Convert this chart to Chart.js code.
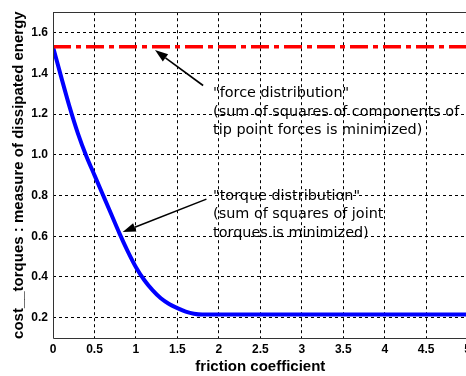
<!DOCTYPE html>
<html>
<head>
<meta charset="utf-8">
<script src="https://cdn.jsdelivr.net/npm/chart.js@4/dist/chart.umd.min.js"></script>
<style>
html,body{margin:0;padding:0;background:#fff;overflow:hidden;}
#wrap{width:466px;height:376px;overflow:hidden;position:relative;}
canvas{display:block;}
</style>
</head>
<body>
<div id="wrap"><canvas id="c" width="475" height="376"></canvas></div>
<script>
// ---- data ----
const frictionX   = [0, 0.1, 0.2, 0.3, 0.4, 0.5, 0.6, 0.7, 0.8, 0.9, 1.0, 1.1, 1.2, 1.3, 1.4, 1.5, 1.6, 1.7, 1.8, 5];
const torqueCost  = [1.53, 1.38, 1.235, 1.105, 0.995, 0.9, 0.805, 0.71, 0.615, 0.527, 0.448, 0.385, 0.335, 0.295, 0.267, 0.247, 0.23, 0.219, 0.215, 0.215];
const forceX      = [0, 5];
const forceCost   = [1.53, 1.53];
const xTicks      = [0, 0.5, 1, 1.5, 2, 2.5, 3, 3.5, 4, 4.5, 5];
const yTicks      = [0.2, 0.4, 0.6, 0.8, 1.0, 1.2, 1.4, 1.6];
const xTitle      = 'friction coefficient';
const yTitle      = 'cost__torques : measure of dissipated energy';
const forceNote   = ['"force distribution"', '(sum of squares of components of', 'tip point forces is minimized)'];
const torqueNote  = ['"torque distribution"', '(sum of squares of joint', 'torques is minimized)'];
// annotation anchors (data coordinates)
const forceArrow  = {from: [1.81, 1.34], to: [1.23, 1.514]};
const torqueArrow = {from: [1.85, 0.782], to: [0.84, 0.62]};
const forceTextAt = [1.93, 1.303];
const torqueTextAt= [1.93, 0.798];

const pts = (xs, ys) => xs.map((x, i) => ({x, y: ys[i]}));

const notes = {
  id: 'notes',
  afterDatasetsDraw(chart) {
    const {ctx, scales: {x, y}, chartArea: a} = chart;
    ctx.save();
    // frame
    ctx.strokeStyle = '#333';
    ctx.lineWidth = 1;
    ctx.beginPath();
    ctx.moveTo(a.right + 2, Math.round(a.top) + 0.5);
    ctx.lineTo(Math.round(a.left) + 0.5, Math.round(a.top) + 0.5);
    ctx.lineTo(Math.round(a.left) + 0.5, Math.round(a.bottom) + 0.5);
    ctx.lineTo(a.right + 2, Math.round(a.bottom) + 0.5);
    ctx.stroke();
    const arrow = (ar) => {
      const x1 = x.getPixelForValue(ar.from[0]), y1 = y.getPixelForValue(ar.from[1]);
      const x2 = x.getPixelForValue(ar.to[0]),   y2 = y.getPixelForValue(ar.to[1]);
      const ang = Math.atan2(y2 - y1, x2 - x1);
      const L = 13, W = 4.5;
      const bx = x2 - L * Math.cos(ang), by = y2 - L * Math.sin(ang);
      ctx.strokeStyle = '#000';
      ctx.lineWidth = 1.6;
      ctx.beginPath();
      ctx.moveTo(x1, y1);
      ctx.lineTo(bx, by);
      ctx.stroke();
      ctx.fillStyle = '#000';
      ctx.beginPath();
      ctx.moveTo(x2, y2);
      ctx.lineTo(bx + W * Math.sin(ang), by - W * Math.cos(ang));
      ctx.lineTo(bx - W * Math.sin(ang), by + W * Math.cos(ang));
      ctx.closePath();
      ctx.fill();
    };
    arrow(forceArrow);
    arrow(torqueArrow);
    ctx.font = '14.4px "DejaVu Sans"';
    ctx.fillStyle = '#000';
    ctx.textBaseline = 'middle';
    ctx.textAlign = 'left';
    const text = (lines, at) => {
      const px = x.getPixelForValue(at[0]), py = y.getPixelForValue(at[1]);
      lines.forEach((t, i) => ctx.fillText(t, px, py + i * 18.8));
    };
    text(forceNote, forceTextAt);
    text(torqueNote, torqueTextAt);
    ctx.restore();
  }
};

new Chart(document.getElementById('c'), {
  type: 'line',
  data: {
    datasets: [
      {
        label: 'force',
        data: pts(forceX, forceCost),
        borderColor: '#ff0000',
        borderWidth: 3.5,
        borderDash: [18, 5, 5, 5],
        pointRadius: 0,
        fill: false
      },
      {
        label: 'torque',
        data: pts(frictionX, torqueCost),
        borderColor: '#0000ff',
        borderWidth: 4,
        pointRadius: 0,
        cubicInterpolationMode: 'monotone',
        fill: false
      }
    ]
  },
  options: {
    responsive: false,
    animation: false,
    events: [],
    layout: {padding: {left: 0, right: 1, top: 9, bottom: 0}},
    plugins: {legend: {display: false}, tooltip: {enabled: false}},
    scales: {
      x: {
        type: 'linear',
        min: 0, max: 5,
        afterBuildTicks: s => { s.ticks = xTicks.map(v => ({value: v})); },
        afterFit: s => { s.height = 38; },
        ticks: {
          color: '#000', padding: 4, maxRotation: 0, autoSkip: false,
          font: {family: '"Liberation Sans", Arial', size: 12, weight: 'bold'},
          callback: v => String(v)
        },
        grid: {color: '#000', lineWidth: 1, tickLength: 0, drawTicks: false},
        border: {display: false, dash: [3, 3]},
        title: {
          display: true, text: xTitle, color: '#000', padding: {top: 0, bottom: 0},
          font: {family: '"Liberation Sans", Arial', size: 15, weight: 'bold'}
        }
      },
      y: {
        type: 'linear',
        min: 0.1, max: 1.7,
        afterBuildTicks: s => { s.ticks = yTicks.map(v => ({value: v})); },
        afterFit: s => { s.width = 53; },
        ticks: {
          color: '#000', padding: 5,
          font: {family: '"Liberation Sans", Arial', size: 12, weight: 'bold'},
          callback: v => v.toFixed(1)
        },
        grid: {color: '#000', lineWidth: 1, tickLength: 0, drawTicks: false},
        border: {display: false, dash: [3, 3]},
        title: {
          display: true, text: yTitle, color: '#000', padding: {top: 10, bottom: 0},
          font: {family: '"Liberation Sans", Arial', size: 15, weight: 'bold'}
        }
      }
    }
  },
  plugins: [notes]
});
</script>
</body>
</html>
